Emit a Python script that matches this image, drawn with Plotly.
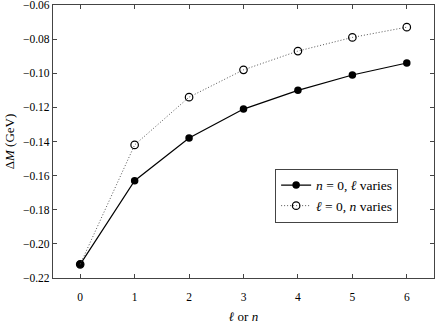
import plotly.graph_objects as go

# data
idx = [0, 1, 2, 3, 4, 5, 6]
dm_l_varies = [-0.212, -0.163, -0.138, -0.121, -0.110, -0.101, -0.094]
dm_n_varies = [-0.212, -0.142, -0.114, -0.098, -0.087, -0.079, -0.073]

fig = go.Figure()
fig.add_trace(go.Scatter(
    x=idx, y=dm_l_varies, mode="lines+markers",
    name="<i>n</i> = 0, <i>ℓ</i> varies",
    line=dict(color="black", width=1.2),
    marker=dict(symbol="circle", size=7.5, color="black"),
))
fig.add_trace(go.Scatter(
    x=idx, y=dm_n_varies, mode="lines+markers",
    name="<i>ℓ</i> = 0, <i>n</i> varies",
    line=dict(color="#555555", width=1, dash="1px,2px"),
    marker=dict(symbol="circle-open", size=7.5, color="black", line=dict(width=1.2)),
))

axis_style = dict(
    showline=True, linecolor="#444444", linewidth=1.2, mirror="allticks",
    ticks="inside", ticklen=4, tickcolor="#444444", showgrid=False, zeroline=False,
    ticklabeloverflow="allow", automargin=False,
)

fig.update_layout(
    width=436, height=324,
    margin=dict(l=53, r=2, t=5, b=46),
    plot_bgcolor="white", paper_bgcolor="white",
    font=dict(family="Liberation Serif", size=11.5, color="black"),
    showlegend=True,
    legend=dict(
        x=0.583, y=0.40, xanchor="left", yanchor="top",
        bordercolor="#444444", borderwidth=1, bgcolor="white",
        font=dict(size=13.5),
    ),
    xaxis=dict(range=[-0.5, 6.5], tickvals=idx, ticklabelstandoff=8,
               title=dict(text="<i>ℓ</i> or <i>n</i>", standoff=9, font=dict(size=13)),
               **axis_style),
    yaxis=dict(range=[-0.22, -0.06], dtick=0.02, tickformat=".2f",
               title=dict(text="Δ<i>M</i> (GeV)", standoff=5, font=dict(size=13)),
               **axis_style),
)

# the page body has a default 8px margin; remove it so the figure sits at 0,0
fig.write_html("out.html", config={"displayModeBar": False},
               post_script="document.body.style.margin='0';")
